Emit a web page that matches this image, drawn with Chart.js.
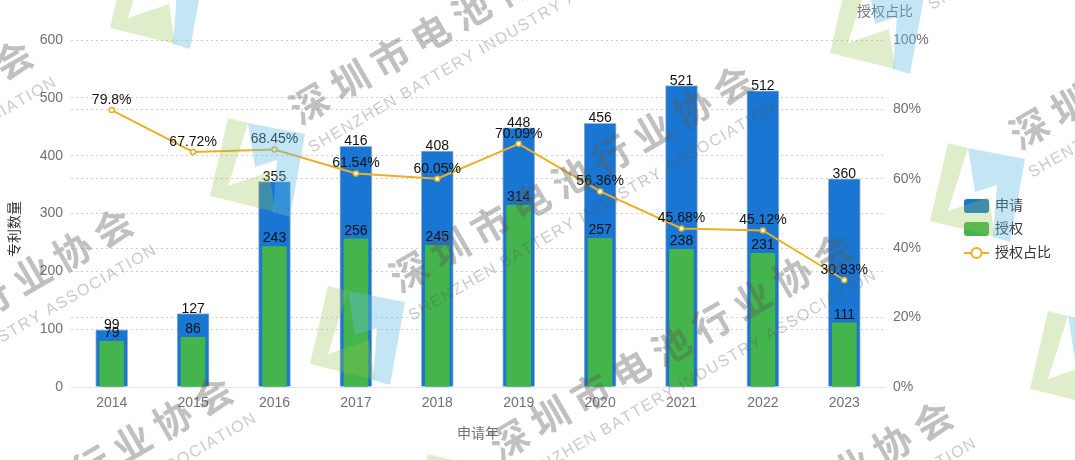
<!DOCTYPE html>
<html><head><meta charset="utf-8">
<script src="https://cdn.jsdelivr.net/npm/chart.js@4/dist/chart.umd.min.js"></script>
<style>html,body{margin:0;padding:0;background:#fff;}#wrap{width:1075px;height:460px;position:relative;}</style>
</head><body><div id="wrap"><canvas id="c" width="1075" height="460"></canvas></div>
<script>
const years = ['2014','2015','2016','2017','2018','2019','2020','2021','2022','2023'];
const applied = [99,127,355,416,408,448,456,521,512,360];
const granted = [79,86,243,256,245,314,257,238,231,111];
const ratio = [79.8,67.72,68.45,61.54,60.05,70.09,56.36,45.68,45.12,30.83];
const ratioLabels = ['79.8%','67.72%','68.45%','61.54%','60.05%','70.09%','56.36%','45.68%','45.12%','30.83%'];
const leftTicks = [0,100,200,300,400,500,600];
const rightTicks = [0,20,40,60,80,100];
const watermarkCN = '深圳市电池行业协会';
const watermarkEN = 'SHENZHEN BATTERY INDUSTRY ASSOCIATION';

const FONT = '"Liberation Sans", "Noto Sans CJK SC", sans-serif';
const BLUE = '#1976d2', GREEN = '#43b54c', GOLD = '#eab026';

function drawWatermark(ctx) {
  const ang = -30 * Math.PI / 180;
  const dir = [Math.cos(ang), Math.sin(ang)];
  const nrm = [-Math.sin(ang), Math.cos(ang)];
  const base = [571, 178], u = [100, 168], v = [620, -143];
  const greenPoly = [[33,8],[53,13],[33,76],[74,62],[80,102],[15,86]];
  const bluePoly = [[53,13],[110,24],[95,107],[78,102],[82,50],[60,57]];
  ctx.save();
  for (let a = -3; a <= 3; a++) {
    for (let b = -2; b <= 2; b++) {
      const cx = base[0] + a*u[0] + b*v[0];
      const cy = base[1] + a*u[1] + b*v[1];
      if (cx < -500 || cx > 1600 || cy < -300 || cy > 800) continue;
      const ox = cx - 276, oy = cy + 100;
      ctx.fillStyle = 'rgba(150,195,80,0.3)';
      ctx.beginPath();
      greenPoly.forEach((p,i)=> i? ctx.lineTo(ox+p[0], oy+p[1]) : ctx.moveTo(ox+p[0], oy+p[1]));
      ctx.closePath(); ctx.fill();
      ctx.fillStyle = 'rgba(100,190,225,0.38)';
      ctx.beginPath();
      bluePoly.forEach((p,i)=> i? ctx.lineTo(ox+p[0], oy+p[1]) : ctx.moveTo(ox+p[0], oy+p[1]));
      ctx.closePath(); ctx.fill();
      ctx.fillStyle = 'rgba(90,90,90,0.38)';
      ctx.font = 'bold 38px "Noto Sans CJK SC", sans-serif';
      ctx.textAlign = 'center'; ctx.textBaseline = 'middle';
      const pitch = 46.7;
      for (let k = 0; k < watermarkCN.length; k++) {
        const d = (k - 4) * pitch;
        ctx.save();
        ctx.translate(cx + d*dir[0], cy + d*dir[1]);
        ctx.rotate(ang);
        ctx.fillText(watermarkCN[k], 0, 0);
        ctx.restore();
      }
      ctx.save();
      ctx.translate(cx + 40*nrm[0], cy + 40*nrm[1]);
      ctx.rotate(ang);
      ctx.font = '16px "Liberation Sans", sans-serif';
      ctx.fillStyle = 'rgba(90,90,90,0.33)';
      const w0 = ctx.measureText(watermarkEN).width;
      const sp = Math.max(0, (418 - w0) / (watermarkEN.length - 1));
      let x = -209;
      ctx.textAlign = 'left';
      for (const ch of watermarkEN) {
        ctx.fillText(ch, x, 0);
        x += ctx.measureText(ch).width + sp;
      }
      ctx.restore();
    }
  }
  ctx.restore();
}

const labelPlugin = {
  id: 'labels',
  afterDatasetsDraw(chart) {
    const ctx = chart.ctx;
    ctx.save();
    ctx.font = '14px ' + FONT;
    ctx.fillStyle = '#111';
    ctx.textAlign = 'center';
    ctx.textBaseline = 'alphabetic';
    const bm = chart.getDatasetMeta(2);
    bm.data.forEach((el, i) => ctx.fillText(String(applied[i]), el.x, el.y - 1));
    const gm = chart.getDatasetMeta(1);
    gm.data.forEach((el, i) => ctx.fillText(String(granted[i]), el.x, el.y - 4));
    const lm = chart.getDatasetMeta(0);
    lm.data.forEach((el, i) => ctx.fillText(ratioLabels[i], el.x, el.y - 6));
    ctx.restore();
  },
  afterDraw(chart) {
    const ctx = chart.ctx;
    ctx.save();
    ctx.font = '14px ' + FONT;
    ctx.fillStyle = '#6e7079';
    ctx.textAlign = 'center';
    ctx.textBaseline = 'middle';
    ctx.fillText('申请年', 478, 434);
    ctx.fillText('授权占比', 885, 12);
    ctx.save();
    ctx.translate(15, 229);
    ctx.rotate(-Math.PI/2);
    ctx.fillStyle = '#333';
    ctx.fillText('专利数量', 0, 0);
    ctx.restore();
    const items = [
      {t:'申请', c:BLUE, y:206},
      {t:'授权', c:GREEN, y:229},
      {t:'授权占比', line:true, y:253}
    ];
    items.forEach(it => {
      if (it.line) {
        ctx.strokeStyle = GOLD; ctx.lineWidth = 2;
        ctx.beginPath(); ctx.moveTo(964, it.y); ctx.lineTo(989, it.y); ctx.stroke();
        ctx.fillStyle = '#fff';
        ctx.beginPath(); ctx.arc(976.5, it.y, 5, 0, Math.PI*2); ctx.fill(); ctx.stroke();
      } else {
        ctx.fillStyle = it.c;
        ctx.beginPath();
        if (ctx.roundRect) ctx.roundRect(964, it.y-7, 25, 14, 3); else ctx.rect(964, it.y-7, 25, 14);
        ctx.fill();
      }
      ctx.fillStyle = '#333';
      ctx.textAlign = 'left';
      ctx.font = '14px ' + FONT;
      ctx.fillText(it.t, 995, it.y);
    });
    ctx.restore();
    drawWatermark(ctx);
  }
};

new Chart(document.getElementById('c'), {
  data: {
    labels: years,
    datasets: [
      {type:'line', label:'授权占比', data: ratio, yAxisID:'y1', order:0,
       borderColor: GOLD, borderWidth: 2, pointRadius: 2.5, pointBorderWidth: 1.5,
       pointBackgroundColor:'#fff', pointBorderColor: GOLD, tension: 0},
      {type:'bar', label:'授权', data: granted, yAxisID:'y', order:1,
       backgroundColor: GREEN, barThickness: 24, grouped:false},
      {type:'bar', label:'申请', data: applied, yAxisID:'y', order:2,
       backgroundColor: BLUE, borderColor:'#9fb3c8', borderWidth: 1, barThickness: 32, grouped:false}
    ]
  },
  options: {
    responsive: false,
    animation: false,
    layout: {padding: {top: 40, left: 0, right: 0, bottom: 0}},
    plugins: {legend: {display:false}, tooltip:{enabled:false}},
    scales: {
      x: {
        grid: {display:false, drawTicks:false},
        border: {color:'#e0e6f1', width:1},
        ticks: {color:'#6e7079', font:{size:14, family:FONT}, padding: 8},
        afterFit(s){ s.height = 73; }
      },
      y: {
        position:'left', min:0, max:600,
        afterBuildTicks(s){ s.ticks = leftTicks.map(v=>({value:v})); },
        grid: {color:'#cfcfcf', drawTicks:false},
        border: {display:false, dash:[2,3]},
        ticks: {color:'#6e7079', font:{size:14, family:FONT}, padding: 8},
        afterFit(s){ s.width = 71; }
      },
      y1: {
        position:'right', min:0, max:100,
        afterBuildTicks(s){ s.ticks = rightTicks.map(v=>({value:v})); },
        grid: {color:'#cfcfcf', drawTicks:false},
        border: {display:false, dash:[2,3]},
        ticks: {color:'#6e7079', font:{size:14, family:FONT}, padding: 8, callback:v=>v+'%'},
        afterFit(s){ s.width = 190; }
      }
    }
  },
  plugins: [labelPlugin]
});
</script></body></html>
